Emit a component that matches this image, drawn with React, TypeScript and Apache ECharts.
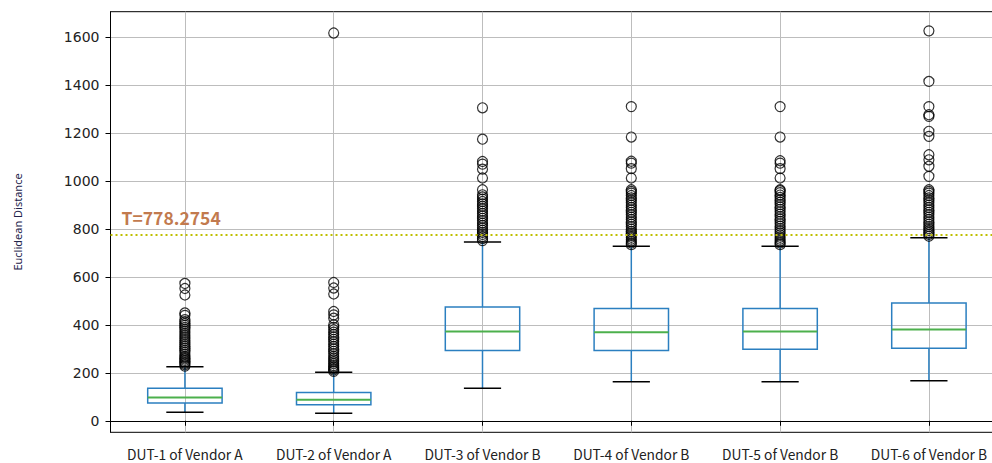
import { useEffect, useRef } from "react";
import * as echarts from "echarts";

const categories = [
  "DUT-1 of Vendor A",
  "DUT-2 of Vendor A",
  "DUT-3 of Vendor B",
  "DUT-4 of Vendor B",
  "DUT-5 of Vendor B",
  "DUT-6 of Vendor B",
];

const whiskerLow = [36, 32, 136, 163, 163, 167];
const q1 = [74, 67, 293, 293, 299, 303];
const median = [97, 88, 373, 369, 373, 381];
const q3 = [136, 118, 475, 469, 469, 491];
const whiskerHigh = [226, 203, 746, 728, 728, 764];

const outliers1 = [228, 234, 240, 246, 252, 258, 264, 270, 278, 286, 294, 302, 310, 318, 326, 334, 342, 350, 358, 366, 374, 382, 390, 398, 406, 414, 422, 440, 450, 525, 552, 573];
const outliers2 = [206, 212, 218, 224, 230, 238, 246, 254, 262, 270, 280, 290, 300, 310, 320, 330, 340, 350, 360, 370, 380, 390, 400, 428, 442, 456, 529, 554, 577, 1618];
const outliers3 = [752, 760, 769, 778, 786, 795, 805, 815, 825, 835, 845, 855, 865, 875, 885, 895, 905, 915, 925, 934, 943, 964, 1013, 1050, 1071, 1082, 1175, 1306];
const outliers4 = [735, 742, 750, 758, 766, 774, 782, 790, 800, 810, 820, 830, 840, 850, 860, 870, 880, 890, 900, 910, 920, 930, 940, 950, 957, 964, 1013, 1052, 1075, 1083, 1184, 1311];
const outliers5 = [735, 742, 750, 758, 766, 775, 784, 793, 802, 812, 822, 832, 842, 852, 862, 872, 882, 892, 902, 912, 922, 932, 942, 952, 960, 964, 1013, 1052, 1075, 1085, 1184, 1311];
const outliers6 = [770, 778, 786, 794, 802, 810, 820, 830, 840, 850, 860, 870, 880, 890, 900, 910, 920, 930, 940, 950, 957, 964, 1020, 1062, 1089, 1110, 1187, 1208, 1270, 1277, 1311, 1416, 1627];

const threshold = 778.2754;
const yTicks = [0, 200, 400, 600, 800, 1000, 1200, 1400, 1600];
const yMin = -48;
const yMax = 1707;

export default function App() {
  const ref = useRef<HTMLDivElement>(null);
  useEffect(() => {
    const chart = echarts.init(ref.current!, null, { renderer: "svg" });
    const boxData = categories.map((_, i) => [i, whiskerLow[i], q1[i], median[i], q3[i], whiskerHigh[i]]);
    const allOutliers = [outliers1, outliers2, outliers3, outliers4, outliers5, outliers6];
    const outlierData = allOutliers.flatMap((arr, i) => arr.map((v) => [i, v]));
    const blue = "#2b7fc0";
    const green = "#4cb04c";
    const grid = "#bdbdbd";
    chart.setOption({
      animation: false,
      backgroundColor: "#fff",
      grid: {
        left: 110.5,
        right: 6.7,
        top: 11.7,
        bottom: 30.7,
        show: true,
        borderColor: "#000",
        borderWidth: 1,
        backgroundColor: "transparent",
      },
      xAxis: {
        type: "category",
        data: categories,
        boundaryGap: true,
        axisLine: { show: true, lineStyle: { color: "#000", width: 1 } },
        axisTick: { show: true, interval: 0, alignWithLabel: true, length: 5, lineStyle: { color: "#000" } },
        axisLabel: {
          interval: 0,
          hideOverlap: false,
          margin: 15,
          lineHeight: 14,
          fontSize: 13.8,
          fontFamily: "Noto Sans CJK SC",
          color: "#222",
        },
        splitLine: { show: true, interval: 0, alignWithLabel: true, lineStyle: { color: grid, width: 1 } },
      },
      yAxis: {
        type: "value",
        min: yMin,
        max: yMax,
        name: "Euclidean Distance",
        nameLocation: "middle",
        nameGap: 88,
        nameTextStyle: { fontSize: 11, color: "#22224a", fontFamily: "Noto Sans" },
        axisLine: { show: true, lineStyle: { color: "#000", width: 1 } },
        axisTick: { show: true, length: 5, customValues: yTicks, lineStyle: { color: "#000" } },
        axisLabel: {
          customValues: yTicks,
          margin: 11,
          fontSize: 14,
          fontFamily: "DejaVu Sans",
          color: "#222",
          formatter: (v: number) => String(v),
        },
        splitLine: { show: true, lineStyle: { color: grid, width: 1 } },
      },
      series: [
        {
          type: "custom",
          data: boxData,
          encode: { x: 0, y: [1, 2, 3, 4, 5] },
          z: 3,
          renderItem: (_params: any, api: any) => {
            const x = api.value(0);
            const half = api.size([1, 0])[0] * 0.25;
            const capHalf = half * 0.5;
            const pLow = api.coord([x, api.value(1)]);
            const pQ1 = api.coord([x, api.value(2)]);
            const pMed = api.coord([x, api.value(3)]);
            const pQ3 = api.coord([x, api.value(4)]);
            const pHigh = api.coord([x, api.value(5)]);
            const cx = pLow[0];
            const lw = 1.5;
            return {
              type: "group",
              children: [
                { type: "line", shape: { x1: cx, y1: pLow[1], x2: cx, y2: pQ1[1] }, style: { stroke: blue, lineWidth: lw } },
                { type: "line", shape: { x1: cx, y1: pQ3[1], x2: cx, y2: pHigh[1] }, style: { stroke: blue, lineWidth: lw } },
                {
                  type: "rect",
                  shape: { x: cx - half, y: pQ3[1], width: 2 * half, height: pQ1[1] - pQ3[1] },
                  style: { fill: "none", stroke: blue, lineWidth: lw },
                },
                { type: "line", shape: { x1: cx - half, y1: pMed[1], x2: cx + half, y2: pMed[1] }, style: { stroke: green, lineWidth: 2 } },
                { type: "line", shape: { x1: cx - capHalf, y1: pLow[1], x2: cx + capHalf, y2: pLow[1] }, style: { stroke: "#000", lineWidth: lw } },
                { type: "line", shape: { x1: cx - capHalf, y1: pHigh[1], x2: cx + capHalf, y2: pHigh[1] }, style: { stroke: "#000", lineWidth: lw } },
              ],
            };
          },
        },
        {
          type: "scatter",
          data: outlierData,
          symbol: "circle",
          symbolSize: 10,
          z: 4,
          itemStyle: { color: "transparent", borderColor: "#000", borderWidth: 1.2 },
          markLine: {
            silent: true,
            symbol: "none",
            data: [{ yAxis: threshold }],
            lineStyle: { color: "#bfbf00", type: [2, 3], width: 2 },
            label: {
              show: true,
              position: "insideStartTop",
              distance: [11, 8],
              formatter: () => "T=" + threshold,
              color: "#c27a4e",
              fontSize: 17.5,
              fontWeight: "bold",
              fontFamily: "Noto Sans CJK SC",
            },
          },
        },
      ],
    });
    return () => chart.dispose();
  }, []);
  return (
    <div style={{ position: "fixed", left: 0, top: 0, width: 992, height: 463, overflow: "hidden", background: "#fff" }}>
      <div ref={ref} style={{ width: 1010, height: 463 }} />
    </div>
  );
}
